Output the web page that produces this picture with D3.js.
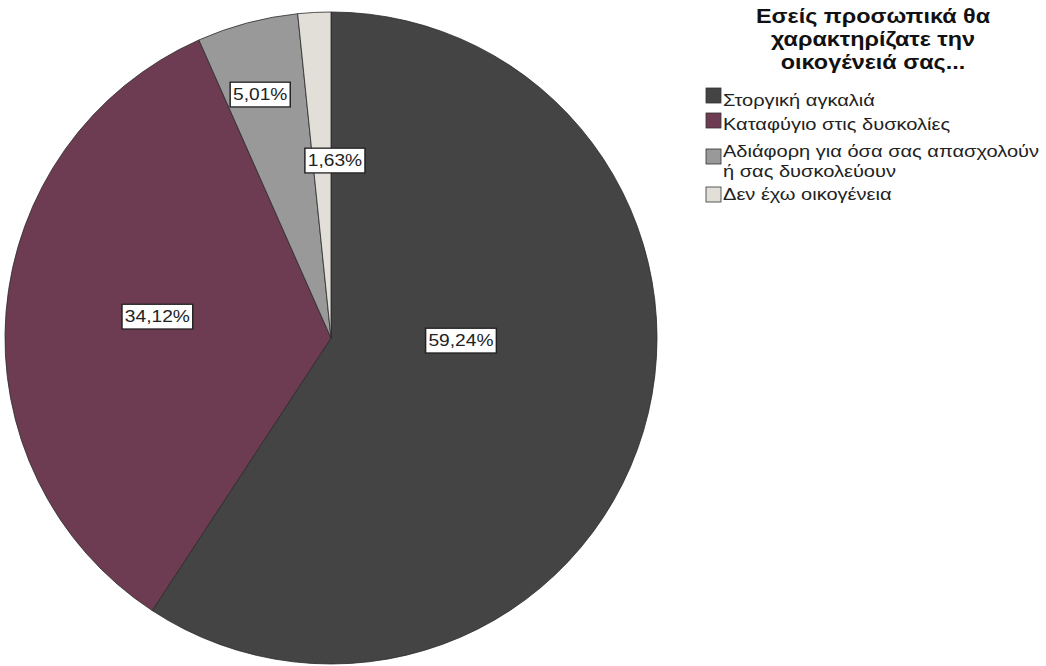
<!DOCTYPE html>
<html><head><meta charset="utf-8">
<script src="https://cdn.jsdelivr.net/npm/d3@7"></script>
<style>body{margin:0;background:#fff;}svg{display:block;}</style>
</head><body>
<svg id="c" width="1046" height="666"></svg>
<script>
const categories = ["Στοργική αγκαλιά","Καταφύγιο στις δυσκολίες","Αδιάφορη για όσα σας απασχολούν ή σας δυσκολεύουν","Δεν έχω οικογένεια"];
const legendLines = [["Στοργική αγκαλιά"],["Καταφύγιο στις δυσκολίες"],["Αδιάφορη για όσα σας απασχολούν","ή σας δυσκολεύουν"],["Δεν έχω οικογένεια"]];
const values = [59.24, 34.12, 5.01, 1.63];
const valueLabels = ["59,24%","34,12%","5,01%","1,63%"];
const colors = ["#444444","#6e3c52","#999999","#e1dfd7"];
const titleLines = ["Εσείς προσωπικά θα","χαρακτηρίζατε την","οικογένειά σας..."];

const FONT = "Liberation Sans, Arial, sans-serif";
const svg = d3.select("#c");
const cx = 331, cy = 338, R = 326;
const pie = d3.pie().sort(null).value(d=>d);
const arcs = pie(values);
const arc = d3.arc().innerRadius(0).outerRadius(R);
const g = svg.append("g").attr("transform",`translate(${cx},${cy})`);
g.selectAll("path").data(arcs).join("path")
  .attr("d",arc).attr("fill",(d,i)=>colors[i])
  .attr("stroke","#2a2a2a").attr("stroke-width",0.8);

// label placement: angle offset (deg) & radius per slice (layout only)
const labAng = [-15.7, 2.5, -1.3, 4.2];
const labRad = [130, 175, 254, 178];
arcs.forEach((a,i)=>{
  const mid = (a.startAngle+a.endAngle)/2 + labAng[i]*Math.PI/180;
  const x = labRad[i]*Math.sin(mid), y = -labRad[i]*Math.cos(mid);
  const lg = g.append("g").attr("transform",`translate(${x},${y}) scale(1.13,1)`);
  const t = lg.append("text").attr("x",0).attr("y",0).attr("dy","0.36em")
    .attr("text-anchor","middle").attr("font-family",FONT)
    .attr("font-size",17).attr("fill","#222").text(valueLabels[i]);
  const bb = t.node().getBBox();
  lg.insert("rect","text")
    .attr("x",bb.x-2.5).attr("y",bb.y-3).attr("width",bb.width+5).attr("height",bb.height+6)
    .attr("fill","#fff").attr("stroke","#222").attr("stroke-width",1.3);
});

// legend
const lgd = svg.append("g").attr("font-family",FONT);
titleLines.forEach((s,i)=>{
  lgd.append("g").attr("transform",`translate(873,${23+i*23}) scale(1.2,1)`)
    .append("text").attr("text-anchor","middle")
    .attr("font-size",19.5).attr("font-weight","bold").attr("fill","#111").text(s);
});
const itemY = [106, 130, 157, 200];
const swY = [88, 113, 149, 187];
legendLines.forEach((lines,i)=>{
  lgd.append("rect").attr("x",706).attr("y",swY[i]).attr("width",15).attr("height",15)
    .attr("fill",colors[i]).attr("stroke","#333").attr("stroke-width",0.8);
  lines.forEach((s,j)=>{
    lgd.append("g").attr("transform",`translate(723,${itemY[i]+j*20}) scale(1.18,1)`)
      .append("text").attr("font-size",17).attr("fill","#222").text(s);
  });
});
</script>
</body></html>
